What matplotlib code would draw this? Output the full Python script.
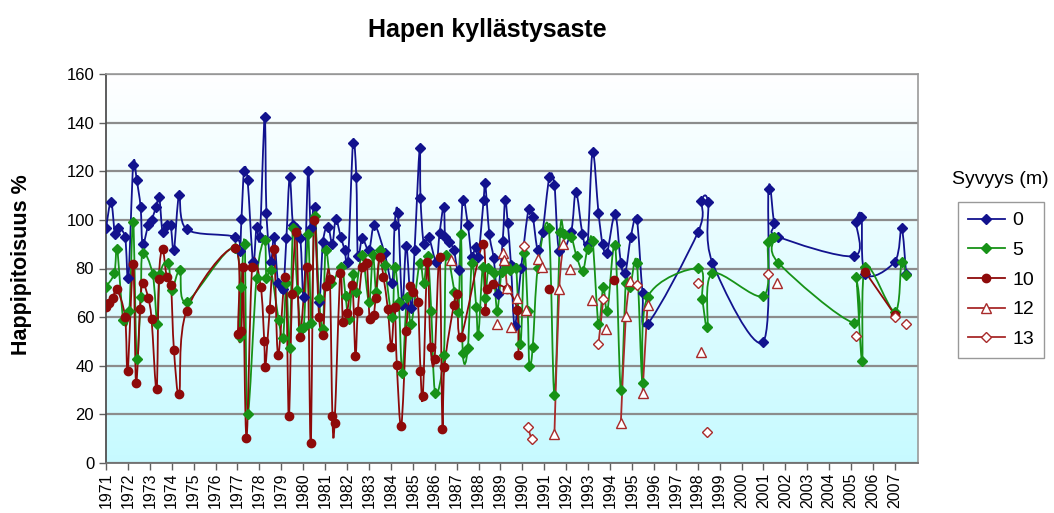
import numpy as np
import matplotlib
matplotlib.use("Agg")
import matplotlib.pyplot as plt
from matplotlib.path import Path
from matplotlib.patches import PathPatch
from matplotlib.lines import Line2D

plt.rcParams['font.family'] = ['Liberation Sans', 'DejaVu Sans']

# ---------------- data ----------------
title = "Hapen kyllästysaste"
ylabel = "Happipitoisuus %"
legend_title = "Syvyys (m)"
year_ticks = list(range(1971, 2008))
year_labels = [str(y) for y in year_ticks]
y_ticks = [0, 20, 40, 60, 80, 100, 120, 140, 160]
depth_labels = ["0", "5", "10", "12", "13"]
nan = np.nan

# depth 0 m
t0 = [1971.00, 1971.23, 1971.41, 1971.53, 1971.87, 1972.02, 1972.24, 1972.40, 1972.58, 1972.67,
      1972.93, 1973.08, 1973.28, 1973.43, 1973.58, 1973.77, 1973.95, 1974.10, 1974.34, 1974.68,
      1976.88, 1977.10, 1977.18, 1977.30, 1977.46, 1977.71, 1977.87, 1978.02, 1978.24, 1978.32,
      1978.52, 1978.67, 1978.85, 1979.08, 1979.23, 1979.38, 1979.53, 1979.69, 1979.87, 1980.03,
      1980.22, 1980.34, 1980.52, 1980.72, 1980.90, 1981.13, 1981.33, 1981.48, 1981.71, 1981.89,
      1982.04, 1982.27, 1982.42, 1982.49, 1982.69, 1983.00, 1983.25, 1983.71, 1984.06, 1984.17,
      1984.32, 1984.52, 1984.70, 1984.93, 1985.08, 1985.31, 1985.35, 1985.50, 1985.72, 1986.07,
      1986.22, 1986.41, 1986.48, 1986.67, 1986.87, 1987.10, 1987.28, 1987.51, 1987.69, 1987.86,
      1987.99, 1988.23, 1988.30, 1988.49, 1988.69, 1988.87, 1989.10, 1989.21, 1989.33, 1989.48,
      1989.65, 1989.94, 1990.28, 1990.47, 1990.70, 1990.92, 1991.23, 1991.46, 1991.68, 1992.22,
      1992.44, 1992.74, 1992.97, 1993.20, 1993.47, 1993.66, 1993.86, 1994.23, 1994.49, 1994.69,
      1994.95, 1995.22, 1995.48, 1995.71, 1998.02, 1998.17, 1998.47, 1998.67, 2000.99, 2001.23,
      2001.48, 2001.67, 2005.12, 2005.23, 2005.47, 2005.65, 2006.99, 2007.30, 2007.51]
v0 = [96.5, 107.5, 94, 96.5, 93, 76, 122.6, 116.4, 105.2, 90,
      97.9, 100, 105.2, 109.3, 95.1, 97.9, 97.9, 87.6, 110.2, 96.1,
      93, 87, 100.2, 120.2, 116.4, 82.8, 97.2, 93.1, 142.4, 103,
      82.8, 93.1, 74.2, 71.4, 92.4, 117.5, 97.9, 96.5, 92.4, 68.2,
      120.2, 96.5, 105.2, 66.4, 91, 97.2, 90, 100.2, 93.1, 87.6,
      82.8, 131.5, 117.8, 85.1, 92.4, 87.6, 97.9, 86.3, 74.2, 97.9,
      103, 65, 89.3, 63.6, 87.6, 129.4, 108.9, 90, 93.1, 82.8,
      94.5, 105.5, 93.1, 91, 87.6, 79.4, 108.2, 97.9, 84.9, 89,
      84.9, 108.2, 115, 94.2, 84.2, 69.5, 91.4, 108.2, 98.8, 81.4,
      56.5, 80.1, 104.3, 101.3, 87.6, 95.1, 117.5, 114.3, 87.3, 95.1,
      111.6, 94.2, 90, 128, 103, 90, 86.3, 102.4, 82.4, 78,
      93.1, 100.2, 70, 57.2, 95.1, 107.9, 107.5, 82.4, 49.9, 112.6,
      98.8, 93.1, 85.1, 99.3, 101.3, 77.7, 82.8, 96.5, 77.7]

# depth 5 m
t5 = [1971.00, 1971.38, 1971.51, 1971.79, 1972.06, 1972.24, 1972.40, 1972.58, 1972.67, 1973.13,
      1973.34, 1973.46, 1973.84, 1973.99, 1974.37, 1974.68, 1976.88, 1977.10, 1977.18, 1977.33,
      1977.46, 1977.87, 1978.24, 1978.32, 1978.52, 1978.88, 1979.08, 1979.23, 1979.38, 1979.53,
      1979.73, 1979.88, 1980.03, 1980.22, 1980.37, 1980.52, 1980.72, 1980.90, 1981.02, 1981.28,
      1981.74, 1981.93, 1982.08, 1982.27, 1982.39, 1982.69, 1983.00, 1983.18, 1983.33, 1983.51,
      1983.71, 1984.06, 1984.17, 1984.36, 1984.52, 1984.73, 1984.93, 1985.31, 1985.50, 1985.68,
      1985.84, 1986.02, 1986.41, 1986.52, 1986.90, 1987.08, 1987.20, 1987.28, 1987.51, 1987.69,
      1987.89, 1987.99, 1988.19, 1988.30, 1988.45, 1988.69, 1988.85, 1989.05, 1989.26, 1989.45,
      1989.71, 1989.91, 1990.09, 1990.24, 1990.32, 1990.47, 1990.70, 1991.20, 1991.46, 1991.72,
      1991.91, 1992.22, 1992.47, 1992.75, 1992.97, 1993.20, 1993.47, 1993.69, 1993.88, 1994.23,
      1994.49, 1994.72, 1994.92, 1995.22, 1995.48, 1995.71, 1998.02, 1998.21, 1998.44, 1998.67,
      2000.99, 2001.21, 2001.50, 2001.67, 2005.12, 2005.23, 2005.50, 2005.65, 2006.99, 2007.30,
      2007.51]
v5 = [72.5, 78, 87.9, 58.8, 62.7, 99.3, 42.6, 68.2, 86.3, 77.7,
      57.2, 77.7, 82.4, 71.2, 79.4, 66.4, 88.3, 52, 72.5, 90,
      20.2, 76, 91.7, 76, 79.4, 58.8, 51.3, 73.9, 47.2, 96.5,
      71.2, 55, 56.1, 94.2, 57.5, 101.6, 67.7, 55, 87.6, 74.2,
      80.8, 68.7, 59.1, 77.7, 70.5, 85.6, 66.4, 85.6, 70.5, 87.6,
      81.4, 59.9, 80.5, 66.4, 36.9, 68.2, 57.2, 82.4, 73.9, 85.1,
      62.7, 28.7, 44.4, 85.6, 70.5, 62.2, 94.2, 45.1, 47.2, 82.4,
      64.3, 52.7, 80.8, 67.7, 80.1, 78, 62.7, 78.7, 81.4, 79.4,
      80.1, 48.9, 86.3, 62.7, 39.9, 47.6, 80.1, 96.5, 28, 95.1,
      94.2, 93.1, 85.1, 79.1, 87.9, 91.4, 57.2, 72.3, 62.7, 89.7,
      30, 74.2, 72.5, 82.4, 32.8, 68.2, 80.1, 67.3, 56.1, 78,
      68.7, 91, 93.1, 82.4, 57.7, 76.4, 42.1, 80.8, 62.2, 82.8,
      77.3]

# depth 10 m (nan = no measurement, line broken)
t10 = [1971.00, 1971.15, 1971.31, 1971.49, 1971.87, 1971.99, 1972.24, 1972.37, 1972.55, 1972.67,
       1972.93, 1973.08, 1973.31, 1973.41, 1973.58, 1973.77, 1973.96, 1974.10, 1974.34, 1974.68,
       1976.88, 1977.03, 1977.18, 1977.25, 1977.41, 1977.67, 1978.06, 1978.22, 1978.27, 1978.47,
       1978.67, 1978.85, 1979.19, 1979.34, 1979.49, 1979.69, 1979.84, 1980.19, 1980.34, 1980.49,
       1980.72, 1980.90, 1981.02, 1981.21, 1981.33, 1981.43, 1981.69, 1981.81, 1981.99, 1982.24,
       1982.38, 1982.49, 1982.69, 1982.90, 1983.03, 1983.21, 1983.30, 1983.48, 1983.66, 1983.86,
       1984.02, 1984.17, 1984.27, 1984.47, 1984.70, 1984.88, 1985.03, 1985.23, 1985.35, 1985.46,
       1985.66, 1985.81, 1985.99, 1986.22, 1986.35, 1986.44, 1986.87, 1987.02, 1987.20, 1988.19,
       1988.30, 1988.39, 1988.64, 1989.30, 1989.76, 1989.82, 1990.50, 1991.20, 1992.50, 1994.19,
       1995.00, 2005.65, 2006.99]
v10 = [64.3, 65.7, 67.7, 71.4, 60.2, 38, 81.9, 33, 63.2, 74.2,
       67.7, 59.1, 30.3, 75.6, 87.9, 76.6, 73.2, 46.5, 28.4, 62.7,
       88.3, 53, 54.4, 80.5, 10.1, 80.5, 72.5, 50, 39.4, 63.2,
       87.9, 44.4, 76.6, 19.3, 69.5, 95.1, 52, 80.5, 8.1, 100,
       60.2, 52.7, 72.8, 75.6, 19.3, 16.3, 78.3, 58.1, 61.6, 73.2,
       44, 62.7, 80.5, 82.4, 59.1, 60.9, 67.7, 84.6, 76.6, 63.2,
       47.6, 64, 40.3, 15.2, 54.4, 72.8, 70.5, 66.4, 38, 27.6,
       82.8, 47.6, 42.6, 84.9, 13.9, 39.4, 65, 69.5, 52, 90,
       62.7, 71.4, 73.6, 71.4, 62.9, 44.4, nan, 71.4, nan, 75.3,
       nan, 78.5, 61]

# depth 12 m
t12 = [1986.72, 1987.5, 1988.85, 1989.00, 1989.10, 1989.18, 1989.30, 1989.40, 1989.48, 1989.60,
       1989.75, 1989.95, 1990.17, 1990.40, 1990.70, 1990.89, 1991.20, 1991.46, 1991.68, 1991.87,
       1992.00, 1992.17, 1992.60, 1993.17, 1993.50, 1993.83, 1994.20, 1994.49, 1994.72, 1994.92,
       1995.20, 1995.48, 1995.71, 1997.00, 1998.17, 2000.00, 2001.63]
v12 = [83.5, nan, 57.2, nan, 86.3, 83.5, 71.9, nan, 55.8, nan,
       68, nan, 63, nan, 83.8, 80.5, nan, 11.9, 71.4, 90,
       nan, 79.7, nan, 67, nan, 55, nan, 16.3, 60.5, 75,
       nan, 28.7, 65, nan, 45.8, nan, 73.9]

# depth 13 m
t13 = [1990.09, 1990.17, 1990.24, 1990.42, 1991.00, 1993.47, 1993.69, 1994.50, 1995.22, 1997.00,
       1998.02, 1998.20, 1998.44, 2000.00, 2001.21, 2003.00, 2005.23, 2006.00, 2006.99, 2007.20,
       2007.51]
v13 = [89.3, nan, 14.9, 9.7, nan, 49, 67.3, nan, 73.2, nan,
       74.2, nan, 12.9, nan, 77.7, nan, 52.2, nan, 60.2, nan,
       57.2]

# ---------------- styling ----------------
series = [
    (t0, v0, dict(color='#12128e', marker='D', mfc='#12128e', mec='#12128e', ms=5.5)),
    (t5, v5, dict(color='#179217', marker='D', mfc='#179217', mec='#179217', ms=5.5)),
    (t10, v10, dict(color='#8e0a0a', marker='o', mfc='#8e0a0a', mec='#8e0a0a', ms=6)),
    (t12, v12, dict(color='#a82a2a', marker='^', mfc='white', mec='#a82a2a', ms=6.5)),
    (t13, v13, dict(color='#a82a2a', marker='D', mfc='white', mec='#a82a2a', ms=5)),
]


def smooth_path(xs, ys):
    pts = np.column_stack([xs, ys])
    n = len(pts)
    verts = [pts[0]]
    codes = [Path.MOVETO]
    for i in range(n - 1):
        p0 = pts[i - 1] if i > 0 else pts[i]
        p1 = pts[i]
        p2 = pts[i + 1]
        p3 = pts[i + 2] if i + 2 < n else pts[i + 1]
        c1 = p1 + (p2 - p0) / 6.0
        c2 = p2 - (p3 - p1) / 6.0
        verts += [c1, c2, p2]
        codes += [Path.CURVE4] * 3
    return Path(verts, codes)


fig = plt.figure(figsize=(10.54, 5.13), dpi=100)
ax = fig.add_axes([106 / 1054, 1 - 463 / 513, (918 - 106) / 1054, (463 - 74) / 513])

# gradient background
top = np.array([1.0, 1.0, 1.0])
bot = np.array([0.78, 0.98, 1.0])
g = np.linspace(0, 1, 256)[:, None]
img = top[None, None, :] * (1 - g[:, :, None]) + bot[None, None, :] * g[:, :, None]
ax.imshow(img, extent=[0, 1, 0, 1], transform=ax.transAxes, aspect='auto', zorder=-2)

for t, v, st in series:
    t = np.asarray(t, float)
    v = np.asarray(v, float)
    ok = ~np.isnan(v)
    # split into continuous runs
    idx = np.where(ok)[0]
    runs = []
    cur = []
    for i in range(len(v)):
        if ok[i]:
            cur.append(i)
        else:
            if cur:
                runs.append(cur)
            cur = []
    if cur:
        runs.append(cur)
    for r in runs:
        if len(r) >= 2:
            p = smooth_path(t[r], v[r])
            ax.add_patch(PathPatch(p, fill=False, edgecolor=st['color'], lw=1.3, zorder=3))
    ax.plot(t[ok], v[ok], ls='none', marker=st['marker'], mfc=st['mfc'], mec=st['mec'],
            ms=st['ms'], mew=1.0, zorder=4)

ax.set_xlim(1971, 2008.05)
ax.set_ylim(0, 160)
ax.set_yticks(y_ticks)
ax.set_yticklabels([str(y) for y in y_ticks], fontsize=12)
ax.set_xticks(year_ticks)
ax.set_xticklabels(year_labels, rotation=90, fontsize=11.5)
ax.tick_params(axis='both', direction='out', length=5, color='#606060', width=1)
ax.tick_params(axis='x', pad=2)
ax.yaxis.grid(True, color='#8c8c8c', lw=1.6, zorder=0)
ax.set_axisbelow(True)
for s in ['top', 'right']:
    ax.spines[s].set_color('#9a9a9a')
    ax.spines[s].set_linewidth(1.2)
ax.spines['left'].set_color('#505050')
ax.spines['bottom'].set_color('#707070')
ax.spines['left'].set_linewidth(1.3)
ax.spines['bottom'].set_linewidth(1.3)

fig.text(487 / 1054, 1 - 30 / 513, title, ha='center', va='center', fontsize=18, fontweight='bold')
fig.text(22 / 1054, 1 - 265 / 513, ylabel, ha='center', va='center', rotation=90,
         fontsize=15.5, fontweight='bold')

fig.text(1000 / 1054, 1 - 180 / 513, legend_title, ha='center', va='center', fontsize=14)
handles = []
for (t, v, st), lab in zip(series, depth_labels):
    handles.append(Line2D([0], [0], color=st['color'], lw=1.3, marker=st['marker'],
                          mfc=st['mfc'], mec=st['mec'], ms=st['ms'], mew=1.0, label=lab))
leg = fig.legend(handles=handles, loc='upper left', bbox_to_anchor=(958 / 1054, 1 - 202 / 513),
                 fontsize=14, frameon=True, fancybox=False, handlelength=1.9,
                 labelspacing=0.62, borderpad=0.5, handletextpad=0.4, borderaxespad=0)
leg.get_frame().set_edgecolor('#808080')
leg.get_frame().set_linewidth(1.0)

fig.savefig('out.png', dpi=100)
